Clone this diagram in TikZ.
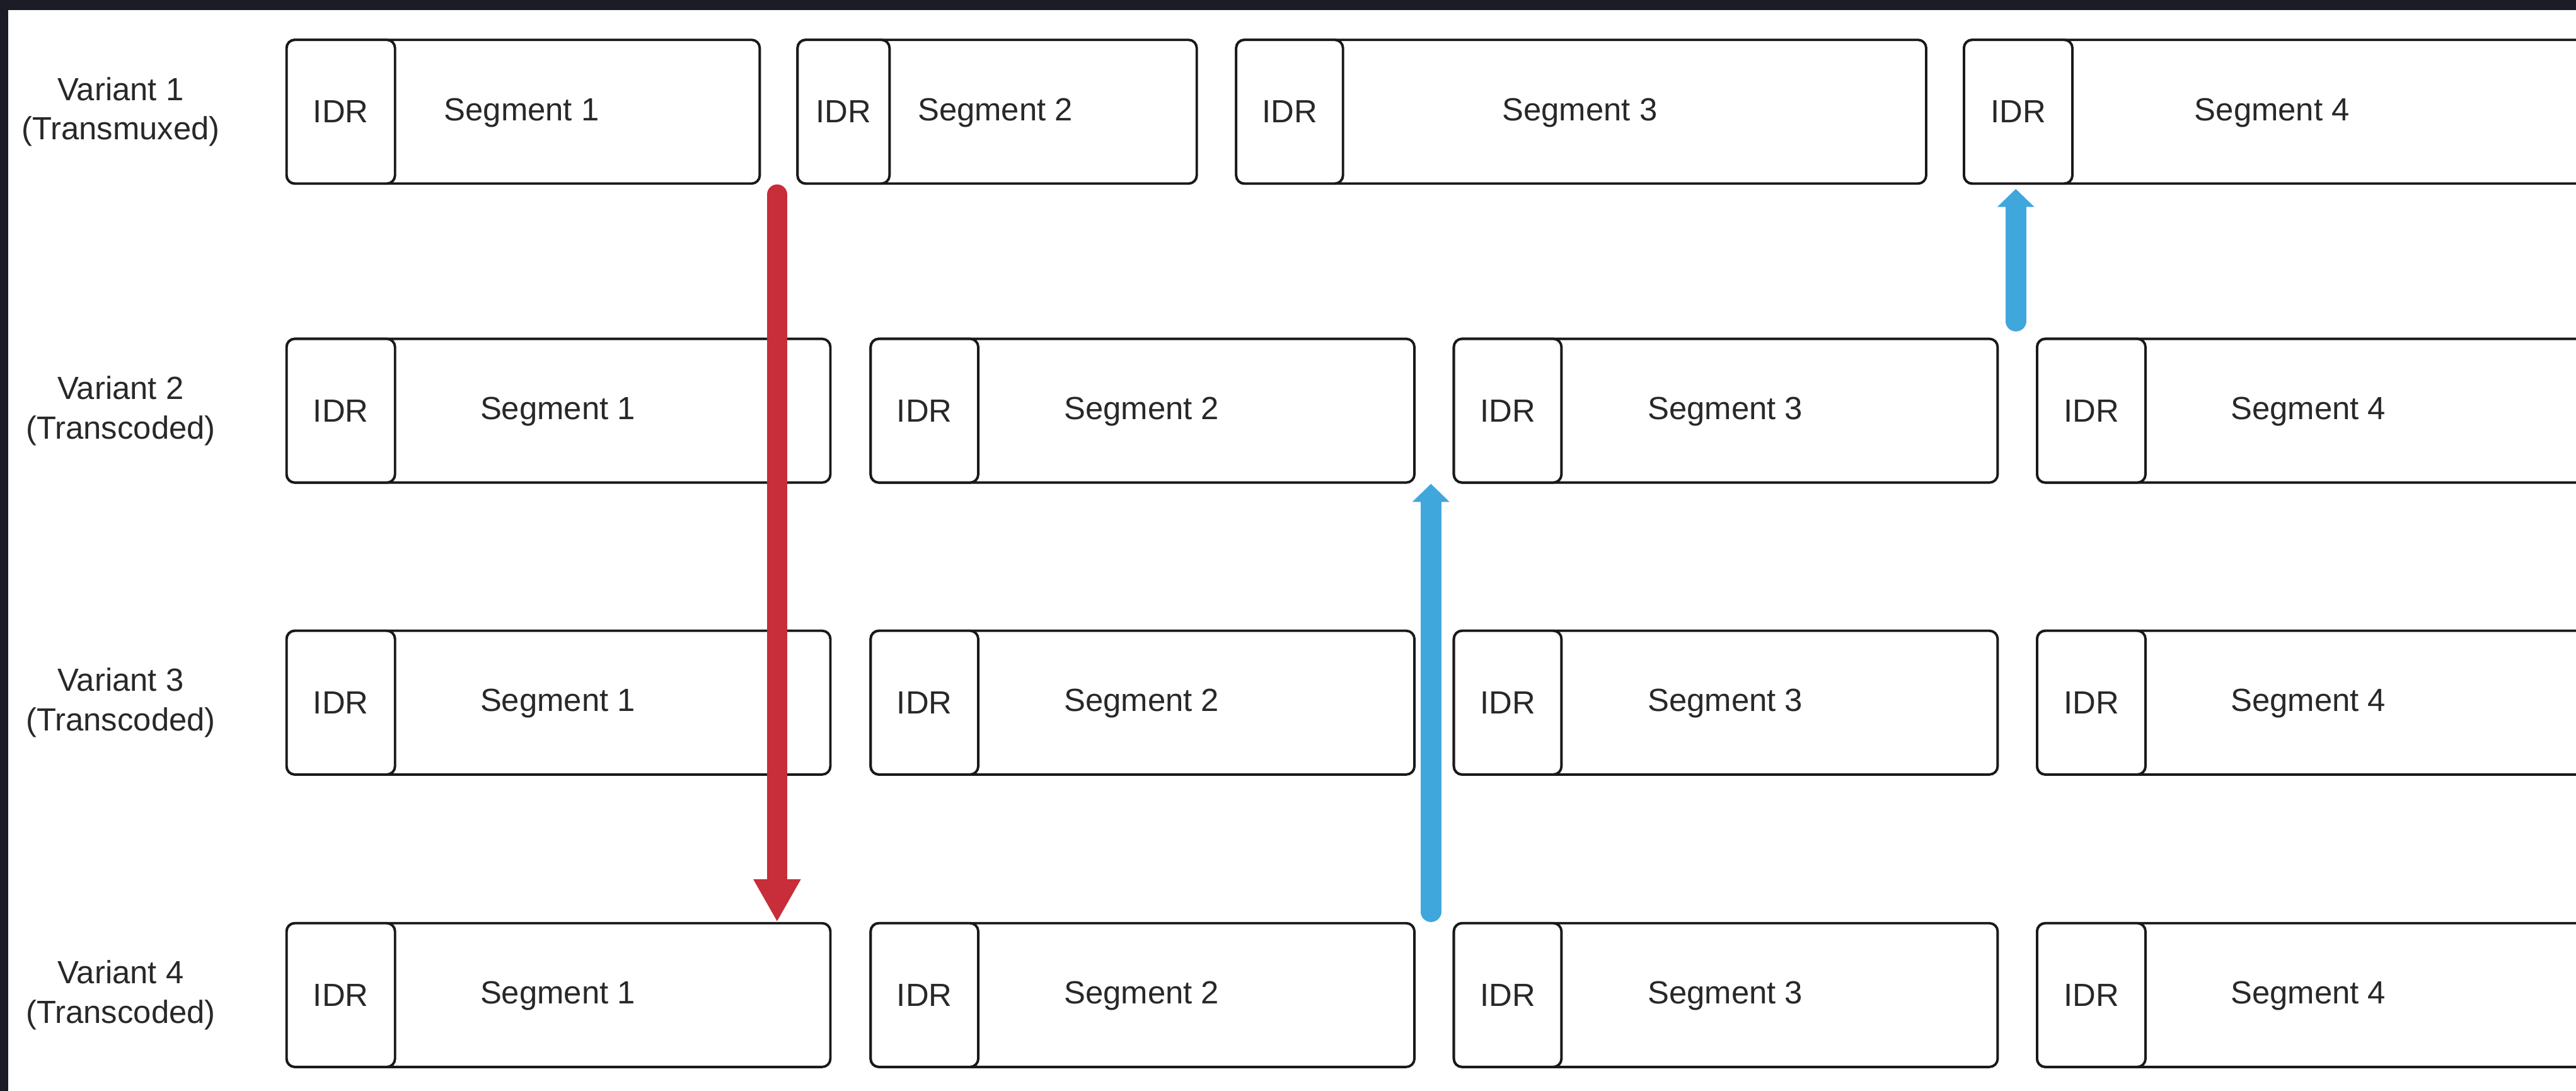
\documentclass[tikz,border=0pt]{standalone}
\usepackage{fontspec}
\setmainfont{Liberation Sans}
\usetikzlibrary{arrows.meta}
\usetikzlibrary{positioning}
\definecolor{bgdark}{RGB}{27,28,38}
\definecolor{segred}{RGB}{200,45,58}
\definecolor{segblue}{RGB}{64,167,221}
\definecolor{textgray}{RGB}{40,40,40}

\begin{document}
\begin{tikzpicture}[x=1pt,y=-1pt,
  segbox/.style={draw=black!90,fill=white,line width=1.5pt,rounded corners=5pt,minimum height=87.5pt,inner sep=0pt,anchor=west},
  idrbox/.style={segbox,minimum width=66pt,text=textgray,font=\fontsize{19.5}{24}\selectfont},
  segtext/.style={anchor=base,text=textgray,font=\fontsize{19.5}{24}\selectfont},
  varlabel/.style={align=center,text=textgray,font=\fontsize{19.5}{24}\selectfont},
  redarrow/.style={line width=12.5pt,segred,line cap=round,-{Triangle[width=27pt,length=26pt]}},
  bluearrow/.style={line width=12.5pt,segblue,line cap=round,-{Triangle[width=22pt,length=11pt]}}]
  \useasboundingbox (0,0) rectangle (1568,664);
  \fill[bgdark] (0,0) rectangle (1568,664);
  \fill[white] (5.1,6.3) rectangle (1568,664);

  \node[varlabel] (V1Label) at (73.5,68) {Variant 1\\(Transmuxed)};
  \node[varlabel] (V2Label) at (73.5,250) {Variant 2\\(Transcoded)};
  \node[varlabel] (V3Label) at (73.5,427.7) {Variant 3\\(Transcoded)};
  \node[varlabel] (V4Label) at (73.5,605.7) {Variant 4\\(Transcoded)};

  \node[segbox,minimum width=288pt] (V1S1) at (173.7,68) {};
  \node[idrbox] (V1I1) at (V1S1.west) {IDR};
  \node[segtext] (V1T1) at (317.5,73.3) {Segment 1};
  \node[segbox,minimum width=243pt] (V1S2) at (484.7,68) {};
  \node[idrbox,minimum width=56pt] (V1I2) at (V1S2.west) {IDR};
  \node[segtext] (V1T2) at (605.8,73.3) {Segment 2};
  \node[segbox,minimum width=420pt] (V1S3) at (751.7,68) {};
  \node[idrbox,minimum width=65pt] (V1I3) at (V1S3.west) {IDR};
  \node[segtext] (V1T3) at (961.6,73.3) {Segment 3};
  \node[segbox,minimum width=380pt] (V1S4) at (1194.7,68) {};
  \node[idrbox] (V1I4) at (V1S4.west) {IDR};
  \node[segtext] (V1T4) at (1383,73.3) {Segment 4};

  \node[segbox,minimum width=331pt] (V2S1) at (173.7,250) {};
  \node[idrbox] (V2I1) at (V2S1.west) {IDR};
  \node[segtext] (V2T1) at (339.5,255.3) {Segment 1};
  \node[segbox,minimum width=331pt] (V2S2) at (529.2,250) {};
  \node[idrbox,minimum width=65.5pt] (V2I2) at (V2S2.west) {IDR};
  \node[segtext] (V2T2) at (694.9,255.3) {Segment 2};
  \node[segbox,minimum width=331pt] (V2S3) at (884.2,250) {};
  \node[idrbox,minimum width=65.5pt] (V2I3) at (V2S3.west) {IDR};
  \node[segtext] (V2T3) at (1050.2,255.3) {Segment 3};
  \node[segbox,minimum width=380pt] (V2S4) at (1239.2,250) {};
  \node[idrbox] (V2I4) at (V2S4.west) {IDR};
  \node[segtext] (V2T4) at (1405,255.3) {Segment 4};

  \node[segbox,minimum width=331pt] (V3S1) at (173.7,427.7) {};
  \node[idrbox] (V3I1) at (V3S1.west) {IDR};
  \node[segtext] (V3T1) at (339.5,433) {Segment 1};
  \node[segbox,minimum width=331pt] (V3S2) at (529.2,427.7) {};
  \node[idrbox,minimum width=65.5pt] (V3I2) at (V3S2.west) {IDR};
  \node[segtext] (V3T2) at (694.9,433) {Segment 2};
  \node[segbox,minimum width=331pt] (V3S3) at (884.2,427.7) {};
  \node[idrbox,minimum width=65.5pt] (V3I3) at (V3S3.west) {IDR};
  \node[segtext] (V3T3) at (1050.2,433) {Segment 3};
  \node[segbox,minimum width=380pt] (V3S4) at (1239.2,427.7) {};
  \node[idrbox] (V3I4) at (V3S4.west) {IDR};
  \node[segtext] (V3T4) at (1405,433) {Segment 4};

  \node[segbox,minimum width=331pt] (V4S1) at (173.7,605.7) {};
  \node[idrbox] (V4I1) at (V4S1.west) {IDR};
  \node[segtext] (V4T1) at (339.5,611) {Segment 1};
  \node[segbox,minimum width=331pt] (V4S2) at (529.2,605.7) {};
  \node[idrbox,minimum width=65.5pt] (V4I2) at (V4S2.west) {IDR};
  \node[segtext] (V4T2) at (694.9,611) {Segment 2};
  \node[segbox,minimum width=331pt] (V4S3) at (884.2,605.7) {};
  \node[idrbox,minimum width=65.5pt] (V4I3) at (V4S3.west) {IDR};
  \node[segtext] (V4T3) at (1050.2,611) {Segment 3};
  \node[segbox,minimum width=380pt] (V4S4) at (1239.2,605.7) {};
  \node[idrbox] (V4I4) at (V4S4.west) {IDR};
  \node[segtext] (V4T4) at (1405,611) {Segment 4};

  \coordinate (RedTop) at (473,118.5);
  \draw[redarrow] (RedTop) -- (RedTop |- V4S1.north);
  \coordinate (BlueLow) at (871,555);
  \draw[bluearrow] (BlueLow) -- (BlueLow |- V2S2.south);
  \coordinate (BlueHigh) at (1227,195.5);
  \draw[bluearrow,shorten >=2.5pt] (BlueHigh) -- (BlueHigh |- V1I4.south);
\end{tikzpicture}
\end{document}
